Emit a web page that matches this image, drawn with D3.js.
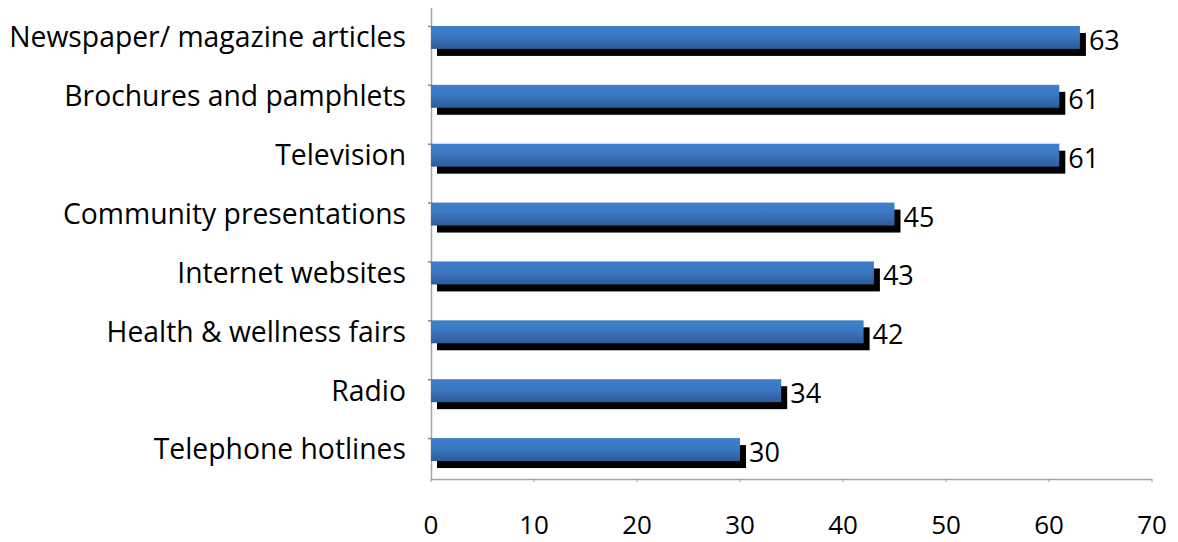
<!DOCTYPE html>
<html><head><meta charset="utf-8">
<script src="https://cdn.jsdelivr.net/npm/d3@7"></script>
<style>body{margin:0;background:#fff}svg{display:block}</style>
</head><body>
<script>
const categories = ["Newspaper/ magazine articles","Brochures and pamphlets","Television","Community presentations","Internet websites","Health & wellness fairs","Radio","Telephone hotlines"];
const values = [63,61,61,45,43,42,34,30];
const xTicks = [0,10,20,30,40,50,60,70];

const W=1178,H=542;
const svg=d3.select("body").append("svg").attr("width",W).attr("height",H);
const font="'Open Sans', Lato, sans-serif";
const x=d3.scaleLinear().domain([0,70]).range([431,1152]);
const y=d3.scaleBand().domain(categories).range([8,479]).paddingInner(0.61).paddingOuter(0.305);

const defs=svg.append("defs");
const g=defs.append("linearGradient").attr("id","bg").attr("x1",0).attr("y1",0).attr("x2",0).attr("y2",1);
g.append("stop").attr("offset","0%").attr("stop-color","#3e7ecb");
g.append("stop").attr("offset","45%").attr("stop-color","#3a78c2");
g.append("stop").attr("offset","100%").attr("stop-color","#2c5b98");

svg.append("line").attr("x1",x(0)).attr("x2",x(70)).attr("y1",479.5).attr("y2",479.5).attr("stroke","#a6a6a6").attr("stroke-width",1.5);
svg.append("line").attr("x1",431.5).attr("x2",431.5).attr("y1",8).attr("y2",479.5).attr("stroke","#a6a6a6").attr("stroke-width",1.5);
svg.selectAll(".yt").data(categories).join("line").attr("x1",428).attr("x2",432)
  .attr("y1",d=>y(d)+0.5).attr("y2",d=>y(d)+0.5).attr("stroke","#888").attr("stroke-width",1.5);
svg.selectAll(".xt").data(xTicks).join("line").attr("x1",d=>x(d)).attr("x2",d=>x(d))
  .attr("y1",479).attr("y2",482).attr("stroke","#999").attr("stroke-width",1);

const bh=y.bandwidth();
svg.selectAll(".sh").data(values).join("rect")
  .attr("x",x(0)+6).attr("y",(d,i)=>y(categories[i])+7)
  .attr("width",d=>x(d)-x(0)).attr("height",bh).attr("fill","#000");
svg.selectAll(".bar").data(values).join("rect")
  .attr("x",x(0)).attr("y",(d,i)=>y(categories[i]))
  .attr("width",d=>x(d)-x(0)).attr("height",bh).attr("fill","url(#bg)");
svg.selectAll(".vl").data(values).join("text")
  .attr("x",d=>x(d)+9).attr("y",(d,i)=>y(categories[i])+bh/2+3)
  .attr("dy","0.35em").attr("font-family",font).attr("font-size",27).attr("fill","#000").text(d=>d);
svg.selectAll(".cl").data(categories).join("text")
  .attr("x",406).attr("y",d=>y(d)+bh/2).attr("dy","0.35em").attr("text-anchor","end")
  .attr("font-family",font).attr("font-size",28.3).attr("fill","#000").text(d=>d);
svg.selectAll(".xl").data(xTicks).join("text")
  .attr("x",d=>x(d)).attr("y",534).attr("text-anchor","middle")
  .attr("font-family",font).attr("font-size",26).attr("fill","#000").text(d=>d);
</script>
</body></html>
